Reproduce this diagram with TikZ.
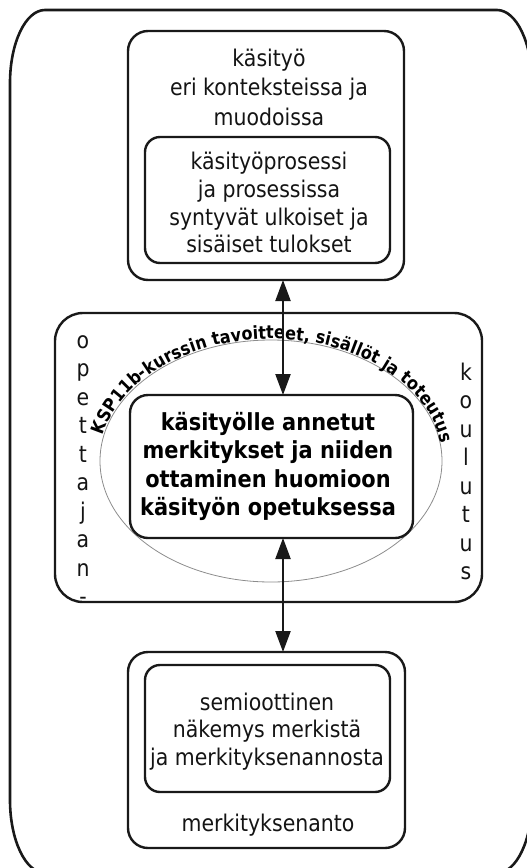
\documentclass[tikz,border=0pt]{standalone}
\usepackage{fontspec}
\setmainfont{DejaVu Sans}[FakeStretch=0.89]
\usetikzlibrary{arrows.meta,decorations.text,shapes.geometric}

\begin{document}
\begin{tikzpicture}[x=1pt,y=1pt,
  ink/.style={draw=black!90},
  box/.style={ink, line width=2.4pt, inner sep=0pt, outer sep=0pt},
  label/.style={align=center, inner sep=0pt, text=black!92,
                font=\fontsize{23}{27.7}\selectfont},
  heavylabel/.style={align=center, inner sep=0pt, text=black,
                font=\bfseries\fontsize{23.5}{28.5}\selectfont},
  letter/.style={inner sep=0pt, text=black!92, font=\fontsize{23}{23}\selectfont},
  tipshape/.tip={Triangle[length=21pt,width=15pt]},
  dblarrow/.style={ink, line width=2.2pt, tipshape-tipshape}
]
\useasboundingbox (0,0) rectangle (527,-868);
\clip (0,0) rectangle (527,-868);

% outer frame with elliptical corners
\draw[ink, line width=2.6pt]
  (10,-83) -- (10,-800)
  arc[start angle=180, end angle=270, x radius=35, y radius=73]
  -- (497,-873)
  arc[start angle=270, end angle=360, x radius=35, y radius=73]
  -- (532,-83)
  arc[start angle=0, end angle=90, x radius=35, y radius=73]
  -- (45,-10)
  arc[start angle=90, end angle=180, x radius=35, y radius=73]
  -- cycle;

% upper block
\node[box, rounded corners=20pt, minimum width=276pt, minimum height=249pt]
  (topbox) at (266,-155.5) {};
\node[box, rounded corners=15pt, minimum width=245pt, minimum height=126pt]
  (topin) at (267.5,-200) {};
\node[label, font=\fontsize{23}{29.5}\selectfont] (tTitle) at (269,-87)
  {käsityö\\eri konteksteissa ja\\muodoissa};
\node[label] (tProc) at (269,-202.7)
  {käsityöprosessi\\ja prosessissa\\syntyvät ulkoiset ja\\sisäiset tulokset};

% middle block: frame, ellipse, curved caption, core box
\node[box, rounded corners=28pt, minimum width=427pt, minimum height=289pt]
  (midframe) at (268.5,-457.5) {};
\node[ellipse, draw=black!45, line width=0.8pt, inner sep=0pt, outer sep=0pt,
      minimum width=342pt, minimum height=242pt] (ring) at (271,-461) {};
\path[decorate, decoration={text along path, text align=left, raise=1pt,
      text={|\bfseries\fontsize{18}{18}\selectfont|KSP11b-kurssin tavoitteet, sisällöt ja toteutus}}]
  (ring.center) ++(168:171 and 121)
  arc[start angle=168, end angle=0, x radius=171, y radius=121];
\node[box, fill=white, rounded corners=18pt, minimum width=283pt, minimum height=143pt]
  (midbox) at (271.5,-466.5) {};
\node[heavylabel] (tCore) at (268,-466.6)
  {käsityölle annetut\\merkitykset ja niiden\\ottaminen huomioon\\käsityön opetuksessa};

\foreach \ch [count=\i from 0] in {o,p,e,t,t,a,j,a,n,-}
  \node[letter, anchor=base] (lft\i) at (83,{-348-28.5*\i}) {\ch};
\foreach \ch [count=\i from 0] in {k,o,u,l,u,t,u,s}
  \node[letter, anchor=base] (rgt\i) at (466,{-380-28.5*\i}) {\ch};

% lower block
\node[box, rounded corners=20pt, minimum width=277pt, minimum height=196pt]
  (botbox) at (266.5,-750) {};
\node[box, rounded corners=15pt, minimum width=245pt, minimum height=127pt]
  (botin) at (267.5,-728.5) {};
\node[label] (tSemio) at (267,-731.5)
  {semioottinen\\näkemys merkistä\\ja merkityksenannosta};
\node[label] (tGive) at (268,-825) {merkityksenanto};

% connectors
\coordinate (ax) at (283,0);
\draw[dblarrow] (ax |- topbox.south) -- (ax |- midbox.north);
\draw[dblarrow] (ax |- midbox.south) -- (ax |- botbox.north);
\end{tikzpicture}
\end{document}
